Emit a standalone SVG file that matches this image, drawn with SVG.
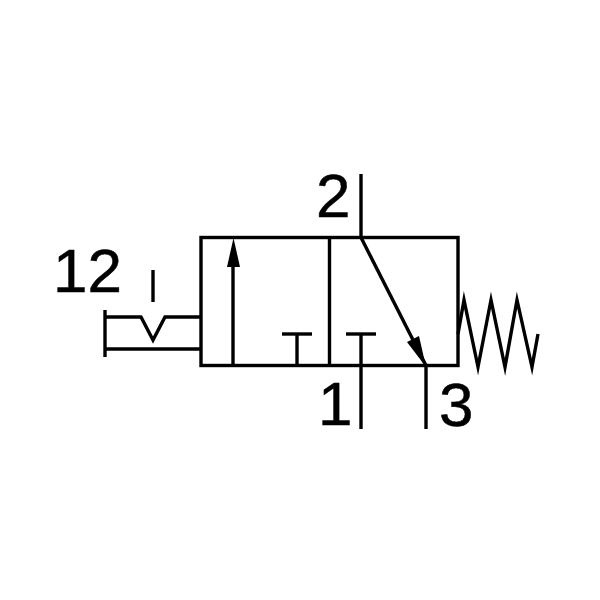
<svg xmlns="http://www.w3.org/2000/svg" width="600" height="600" viewBox="0 0 600 600">
<style>
.l{fill:none;stroke:#000;stroke-width:3.400}
.a{fill:#000;stroke:none}
text{font-family:"Liberation Sans",Arial,sans-serif;font-size:62px;fill:#000;stroke:#000;stroke-width:.5}
</style>
<rect width="600" height="600" fill="#fff"/>
<g id="valve-body">
<rect class="l" x="201" y="237.500" width="257" height="128"/>
<path class="l" d="M329.500 237.500V365.500"/>
</g>
<g id="connectors">
<path class="l" d="M361 174V237.500"/>
<path class="l" d="M361 237.500L426 365.500"/>
<path class="a" d="M426 367L407 342L419 336Z"/>
<path class="l" d="M361 334V429"/>
<path class="l" d="M346 334H376"/>
<path class="l" d="M426 365.500V429"/>
<path class="l" d="M297 365.500V334"/>
<path class="l" d="M282 334H312"/>
<path class="l" d="M233 365.500V260"/>
<path class="a" d="M233.500 238L227 267H240Z"/>
</g>
<g id="actuator">
<path class="l" d="M105 310V357"/>
<path class="l" d="M105 317H141L153 340L165 317H201"/>
<path class="l" d="M105 349H201"/>
<path class="l" d="M153 270V302"/>
</g>
<g id="spring">
<path class="l" stroke-miterlimit="20" d="M458 334L464 300L478 367L491 300L505 367L517 300L532 367L538 334"/>
</g>
<g id="labels">
<text x="53" y="292">12</text>
<text x="316" y="217">2</text>
<text x="318" y="425">1</text>
<text x="439" y="426">3</text>
</g>
</svg>
